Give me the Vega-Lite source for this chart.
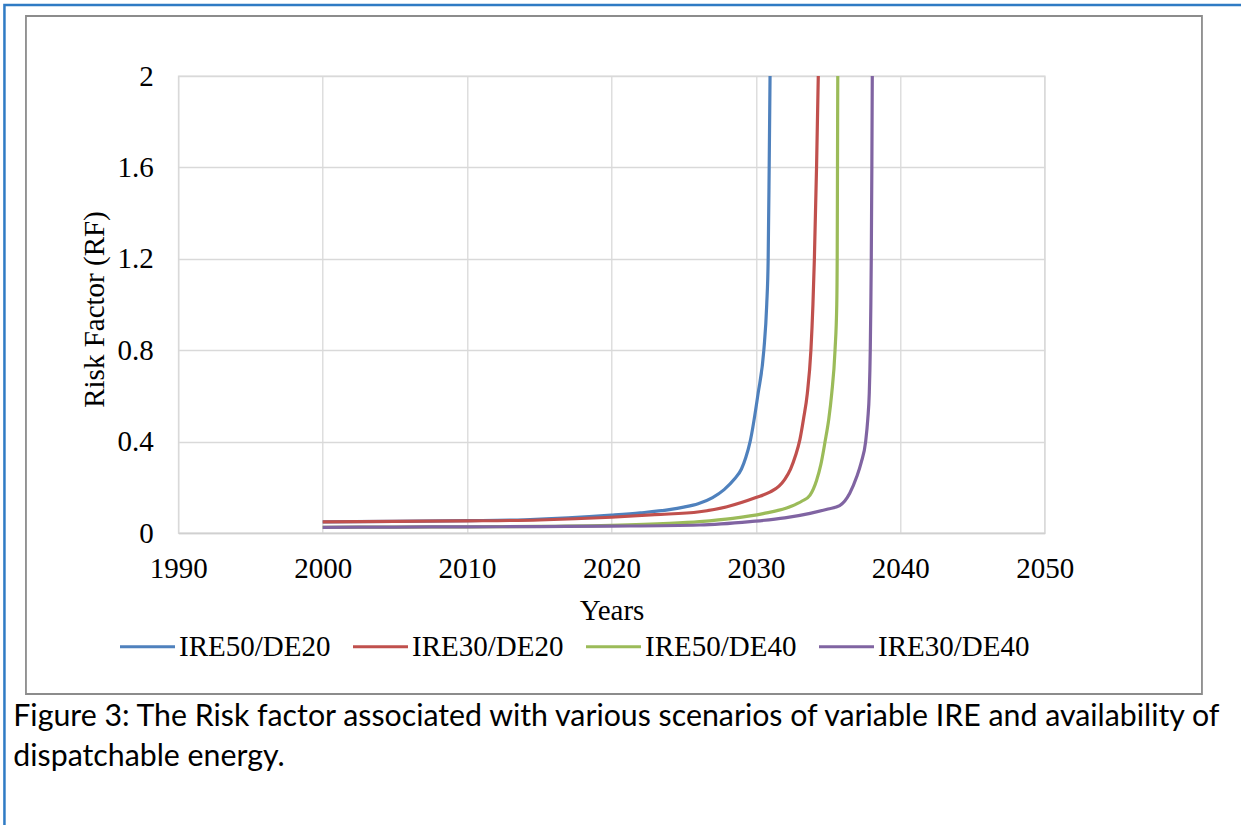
{
  "$schema": "https://vega.github.io/schema/vega-lite/v6.json",
  "width": 866.4,
  "height": 457,
  "autosize": "none",
  "padding": {"left": 178.3, "top": 76, "right": 196.3, "bottom": 292},
  "background": "white",
  "config": {
    "view": {"stroke": "#d9d9d9", "strokeWidth": 1.3},
    "font": "Liberation Serif"
  },
  "title": {
    "text": ["Figure 3:  The Risk factor associated with various scenarios of variable IRE and availability of", "dispatchable energy."],
    "orient": "bottom",
    "anchor": "start",
    "frame": "group",
    "font": "Lato",
    "fontSize": 30.3,
    "fontWeight": "normal",
    "color": "#000000",
    "lineHeight": 40,
    "dx": -165,
    "offset": -134
  },
  "layer": [
    {
      "data": {"values": [{}]},
      "mark": {"type": "rect", "filled": false, "stroke": "#2F7BC4", "strokeWidth": 2.5},
      "encoding": {
        "x": {"datum": 1977.96, "type": "quantitative"},
        "x2": {"datum": 2067},
        "y": {"datum": 2.3107, "type": "quantitative"},
        "y2": {"datum": -1.32}
      }
    },
    {
      "data": {"values": [{}]},
      "mark": {"type": "rect", "filled": false, "stroke": "#8c8c8c", "strokeWidth": 1.8},
      "encoding": {
        "x": {"datum": 1979.45, "type": "quantitative"},
        "x2": {"datum": 2060.89},
        "y": {"datum": 2.2626, "type": "quantitative"},
        "y2": {"datum": -0.7046}
      }
    },
    {
      "data": {
        "values": [
          {"series": "IRE50/DE20", "year": 2000, "rf": 0.049},
          {"series": "IRE50/DE20", "year": 2005, "rf": 0.051},
          {"series": "IRE50/DE20", "year": 2010, "rf": 0.054},
          {"series": "IRE50/DE20", "year": 2014, "rf": 0.058},
          {"series": "IRE50/DE20", "year": 2017, "rf": 0.066},
          {"series": "IRE50/DE20", "year": 2020, "rf": 0.078},
          {"series": "IRE50/DE20", "year": 2022, "rf": 0.088},
          {"series": "IRE50/DE20", "year": 2024, "rf": 0.102},
          {"series": "IRE50/DE20", "year": 2025, "rf": 0.113},
          {"series": "IRE50/DE20", "year": 2026, "rf": 0.128},
          {"series": "IRE50/DE20", "year": 2027, "rf": 0.155},
          {"series": "IRE50/DE20", "year": 2027.8, "rf": 0.190},
          {"series": "IRE50/DE20", "year": 2028.5, "rf": 0.235},
          {"series": "IRE50/DE20", "year": 2029, "rf": 0.280},
          {"series": "IRE50/DE20", "year": 2029.3, "rf": 0.330},
          {"series": "IRE50/DE20", "year": 2029.6, "rf": 0.400},
          {"series": "IRE50/DE20", "year": 2030.15, "rf": 0.610},
          {"series": "IRE50/DE20", "year": 2030.55, "rf": 0.800},
          {"series": "IRE50/DE20", "year": 2030.75, "rf": 1.000},
          {"series": "IRE50/DE20", "year": 2030.85, "rf": 1.200},
          {"series": "IRE50/DE20", "year": 2030.92, "rf": 1.600},
          {"series": "IRE50/DE20", "year": 2030.98, "rf": 2.000},

          {"series": "IRE30/DE20", "year": 2000, "rf": 0.049},
          {"series": "IRE30/DE20", "year": 2005, "rf": 0.051},
          {"series": "IRE30/DE20", "year": 2010, "rf": 0.053},
          {"series": "IRE30/DE20", "year": 2015, "rf": 0.057},
          {"series": "IRE30/DE20", "year": 2020, "rf": 0.069},
          {"series": "IRE30/DE20", "year": 2023, "rf": 0.080},
          {"series": "IRE30/DE20", "year": 2026.1, "rf": 0.093},
          {"series": "IRE30/DE20", "year": 2028, "rf": 0.115},
          {"series": "IRE30/DE20", "year": 2030, "rf": 0.155},
          {"series": "IRE30/DE20", "year": 2031, "rf": 0.180},
          {"series": "IRE30/DE20", "year": 2031.6, "rf": 0.205},
          {"series": "IRE30/DE20", "year": 2032, "rf": 0.235},
          {"series": "IRE30/DE20", "year": 2032.4, "rf": 0.280},
          {"series": "IRE30/DE20", "year": 2032.75, "rf": 0.340},
          {"series": "IRE30/DE20", "year": 2033.05, "rf": 0.410},
          {"series": "IRE30/DE20", "year": 2033.3, "rf": 0.500},
          {"series": "IRE30/DE20", "year": 2033.56, "rf": 0.610},
          {"series": "IRE30/DE20", "year": 2033.81, "rf": 0.800},
          {"series": "IRE30/DE20", "year": 2033.95, "rf": 1.000},
          {"series": "IRE30/DE20", "year": 2034.05, "rf": 1.200},
          {"series": "IRE30/DE20", "year": 2034.2, "rf": 1.600},
          {"series": "IRE30/DE20", "year": 2034.32, "rf": 2.000},

          {"series": "IRE50/DE40", "year": 2000, "rf": 0.025},
          {"series": "IRE50/DE40", "year": 2005, "rf": 0.026},
          {"series": "IRE50/DE40", "year": 2010, "rf": 0.027},
          {"series": "IRE50/DE40", "year": 2015, "rf": 0.029},
          {"series": "IRE50/DE40", "year": 2020, "rf": 0.033},
          {"series": "IRE50/DE40", "year": 2024, "rf": 0.042},
          {"series": "IRE50/DE40", "year": 2026.1, "rf": 0.050},
          {"series": "IRE50/DE40", "year": 2028.4, "rf": 0.064},
          {"series": "IRE50/DE40", "year": 2030.5, "rf": 0.085},
          {"series": "IRE50/DE40", "year": 2032.36, "rf": 0.115},
          {"series": "IRE50/DE40", "year": 2033.2, "rf": 0.140},
          {"series": "IRE50/DE40", "year": 2033.75, "rf": 0.166},
          {"series": "IRE50/DE40", "year": 2034.2, "rf": 0.230},
          {"series": "IRE50/DE40", "year": 2034.5, "rf": 0.300},
          {"series": "IRE50/DE40", "year": 2034.79, "rf": 0.400},
          {"series": "IRE50/DE40", "year": 2035.05, "rf": 0.500},
          {"series": "IRE50/DE40", "year": 2035.25, "rf": 0.610},
          {"series": "IRE50/DE40", "year": 2035.48, "rf": 0.800},
          {"series": "IRE50/DE40", "year": 2035.6, "rf": 1.000},
          {"series": "IRE50/DE40", "year": 2035.63, "rf": 1.200},
          {"series": "IRE50/DE40", "year": 2035.65, "rf": 1.600},
          {"series": "IRE50/DE40", "year": 2035.67, "rf": 2.000},

          {"series": "IRE30/DE40", "year": 2000, "rf": 0.025},
          {"series": "IRE30/DE40", "year": 2005, "rf": 0.026},
          {"series": "IRE30/DE40", "year": 2010, "rf": 0.027},
          {"series": "IRE30/DE40", "year": 2015, "rf": 0.028},
          {"series": "IRE30/DE40", "year": 2020, "rf": 0.030},
          {"series": "IRE30/DE40", "year": 2026.1, "rf": 0.035},
          {"series": "IRE30/DE40", "year": 2029.6, "rf": 0.050},
          {"series": "IRE30/DE40", "year": 2032, "rf": 0.066},
          {"series": "IRE30/DE40", "year": 2033.75, "rf": 0.086},
          {"series": "IRE30/DE40", "year": 2035, "rf": 0.105},
          {"series": "IRE30/DE40", "year": 2035.8, "rf": 0.120},
          {"series": "IRE30/DE40", "year": 2036.5, "rf": 0.174},
          {"series": "IRE30/DE40", "year": 2036.98, "rf": 0.246},
          {"series": "IRE30/DE40", "year": 2037.3, "rf": 0.310},
          {"series": "IRE30/DE40", "year": 2037.6, "rf": 0.400},
          {"series": "IRE30/DE40", "year": 2037.75, "rf": 0.500},
          {"series": "IRE30/DE40", "year": 2037.85, "rf": 0.610},
          {"series": "IRE30/DE40", "year": 2037.92, "rf": 0.800},
          {"series": "IRE30/DE40", "year": 2037.96, "rf": 1.000},
          {"series": "IRE30/DE40", "year": 2037.99, "rf": 1.200},
          {"series": "IRE30/DE40", "year": 2038.03, "rf": 1.600},
          {"series": "IRE30/DE40", "year": 2038.06, "rf": 2.000}
        ]
      },
      "mark": {"type": "line", "interpolate": "monotone", "strokeWidth": 3.2},
      "encoding": {
        "x": {
          "field": "year",
          "type": "quantitative",
          "title": "Years",
          "scale": {"domain": [1990, 2050], "nice": false, "zero": false},
          "axis": {
            "values": [1990, 2000, 2010, 2020, 2030, 2040, 2050],
            "format": "d",
            "grid": true,
            "gridColor": "#d9d9d9",
            "gridWidth": 1.3,
            "domainColor": "#d0d0d0",
            "domainWidth": 1.6,
            "ticks": false,
            "labelFont": "Liberation Serif",
            "labelFontSize": 29,
            "labelColor": "#000000",
            "labelPadding": 21,
            "labelFlush": false,
            "labelOverlap": false,
            "titleFont": "Liberation Serif",
            "titleFontSize": 29,
            "titleFontWeight": "normal",
            "titleColor": "#000000",
            "titleBaseline": "alphabetic",
            "titleY": 86
          }
        },
        "y": {
          "field": "rf",
          "type": "quantitative",
          "title": "Risk Factor (RF)",
          "scale": {"domain": [0, 2], "nice": false},
          "axis": {
            "values": [0, 0.4, 0.8, 1.2, 1.6, 2],
            "format": "~g",
            "grid": true,
            "gridColor": "#d9d9d9",
            "gridWidth": 1.3,
            "domain": false,
            "ticks": false,
            "labelFont": "Liberation Serif",
            "labelFontSize": 29,
            "labelColor": "#000000",
            "labelPadding": 25,
            "labelFlush": false,
            "labelOverlap": false,
            "titleFont": "Liberation Serif",
            "titleFontSize": 29,
            "titleFontWeight": "normal",
            "titleColor": "#000000",
            "titleBaseline": "alphabetic",
            "titleX": -75,
            "titleY": 233
          }
        },
        "color": {
          "field": "series",
          "type": "nominal",
          "scale": {
            "domain": ["IRE50/DE20", "IRE30/DE20", "IRE50/DE40", "IRE30/DE40"],
            "range": ["#4F81BD", "#C0504D", "#9BBB59", "#8064A2"]
          },
          "legend": {
            "orient": "none",
            "legendX": -60.3,
            "legendY": 541,
            "direction": "horizontal",
            "title": null,
            "symbolType": "stroke",
            "symbolSize": 3025,
            "symbolStrokeWidth": 3.2,
            "labelFont": "Liberation Serif",
            "labelFontSize": 29,
            "labelColor": "#000000",
            "labelOffset": 2,
            "columnPadding": 15,
            "padding": 0,
            "labelLimit": 400
          }
        }
      }
    }
  ]
}
